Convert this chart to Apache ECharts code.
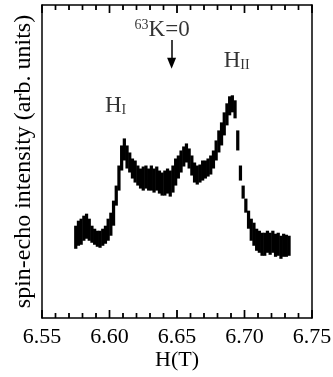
<!DOCTYPE html>
<html>
<head>
<meta charset="utf-8">
<script src="https://cdn.jsdelivr.net/npm/echarts@6/dist/echarts.min.js"></script>
<style>
  html, body { margin: 0; padding: 0; background: #fff; }
  #main { width: 333px; height: 377px; }
</style>
</head>
<body>
<div id="main"></div>
<script>
// field values (T) of each slice of the spin-echo trace
var fieldT = [6.575, 6.577, 6.579, 6.581, 6.583, 6.585, 6.587, 6.589, 6.591, 6.593,
  6.595, 6.597, 6.599, 6.601, 6.603, 6.605, 6.607, 6.609, 6.611, 6.613,
  6.615, 6.617, 6.619, 6.621, 6.623, 6.625, 6.627, 6.629, 6.631, 6.633,
  6.635, 6.637, 6.639, 6.641, 6.643, 6.645, 6.647, 6.649, 6.651, 6.653,
  6.655, 6.657, 6.659, 6.661, 6.663, 6.665, 6.667, 6.669, 6.671, 6.673,
  6.675, 6.677, 6.679, 6.681, 6.683, 6.685, 6.687, 6.689, 6.691, 6.693,
  6.695, 6.697, 6.699, 6.701, 6.703, 6.705, 6.707, 6.709, 6.711, 6.713,
  6.715, 6.717, 6.719, 6.721, 6.723, 6.725, 6.727, 6.729, 6.731, 6.733];
// upper and lower edge of the noisy trace (arb. units)
var bandHi = [92, 97, 99, 102, 104, 99, 92, 89, 87, 87,
  89, 92, 99, 105, 117, 132, 152, 172, 179, 172,
  165, 159, 157, 152, 149, 151, 152, 149, 152, 149,
  151, 147, 145, 147, 149, 147, 152, 159, 162, 167,
  171, 174, 169, 162, 155, 152, 153, 157, 157, 159,
  162, 167, 177, 187, 195, 205, 214, 221, 222, 217,
  187, 152, 132, 119, 107, 99, 95, 89, 87, 85,
  85, 87, 85, 87, 84, 85, 82, 84, 83, 82];
var bandLo = [69, 72, 73, 77, 79, 77, 75, 73, 71, 70,
  72, 74, 77, 82, 92, 112, 127, 147, 157, 149,
  145, 139, 135, 132, 129, 127, 129, 127, 127, 125,
  127, 124, 122, 122, 124, 121, 125, 132, 139, 145,
  151, 155, 149, 142, 135, 133, 135, 137, 139, 141,
  143, 149, 157, 165, 172, 182, 192, 202, 205, 199,
  167, 137, 119, 105, 89, 77, 72, 67, 65, 62,
  62, 65, 63, 65, 61, 62, 59, 61, 61, 62];
// axis ticks (T)
var xTicks = [6.55, 6.60, 6.65, 6.70, 6.75];
var xMinorTicks = [6.56, 6.57, 6.58, 6.59, 6.61, 6.62, 6.63, 6.64, 6.66, 6.67, 6.68, 6.69,
  6.71, 6.72, 6.73, 6.74];
var yMax = 312;

var bands = fieldT.map(function (x, i) { return [x, bandLo[i], bandHi[i]]; });
// [field, side (0 bottom / 1 top), major flag]
var tickData = [];
xTicks.forEach(function (t) { tickData.push([t, 0, 1], [t, 1, 1]); });
xMinorTicks.forEach(function (t) { tickData.push([t, 0, 0], [t, 1, 0]); });
var serif = 'Liberation Serif';

function xAxisOpt(pos, withLabels) {
  return {
    type: 'value', position: pos, min: xTicks[0], max: xTicks[xTicks.length - 1], interval: 0.05,
    axisLine: { show: true, onZero: false, lineStyle: { color: '#000', width: 1.5 } },
    axisTick: { show: false },
    splitLine: { show: false },
    axisLabel: {
      show: withLabels, margin: 8, fontFamily: serif, fontSize: 22, color: '#000',
      formatter: function (v) { return v.toFixed(2); }
    }
  };
}

var bottomAxis = xAxisOpt('bottom', true);
bottomAxis.name = 'H(T)';
bottomAxis.nameLocation = 'middle';
bottomAxis.nameGap = 42;
bottomAxis.nameMoveOverlap = false;
bottomAxis.nameTextStyle = { fontFamily: serif, fontSize: 22, color: '#000', verticalAlign: 'middle' };

var myChart = echarts.init(document.getElementById('main'));
myChart.setOption({
  animation: false,
  grid: { left: 42, right: 21, top: 5, bottom: 59, outerBoundsMode: 'none', containLabel: false },
  xAxis: [bottomAxis, xAxisOpt('top', false)],
  yAxis: [
    {
      type: 'value', min: 0, max: yMax, position: 'left',
      name: 'spin-echo intensity (arb. units)', nameLocation: 'middle', nameGap: 6,
      nameTextStyle: { fontFamily: serif, fontSize: 24, color: '#000' },
      axisLine: { show: true, lineStyle: { color: '#000', width: 1.5 } },
      axisTick: { show: false }, axisLabel: { show: false }, splitLine: { show: false }
    },
    {
      type: 'value', min: 0, max: yMax, position: 'right',
      axisLine: { show: true, lineStyle: { color: '#000', width: 1.5 } },
      axisTick: { show: false }, axisLabel: { show: false }, splitLine: { show: false }
    }
  ],
  series: [
    {
      type: 'custom',
      data: bands,
      renderItem: function (params, api) {
        var x = api.value(0);
        var p1 = api.coord([x - 0.0012, api.value(2)]);
        var p2 = api.coord([x + 0.0012, api.value(1)]);
        return {
          type: 'rect',
          shape: { x: p1[0], y: p1[1], width: p2[0] - p1[0], height: p2[1] - p1[1] },
          style: { fill: '#000' }
        };
      },
      markLine: {
        silent: true,
        symbol: ['none', 'triangle'], symbolSize: [9, 11],
        label: { show: false },
        lineStyle: { color: '#000', width: 1.5, type: 'solid' },
        data: [[{ coord: [6.646, 277] }, { coord: [6.646, 254] }]]
      }
    },
    {
      // inward tick marks on the bottom and top frame, one rect per tick
      type: 'custom',
      silent: true,
      z: 5,
      data: tickData,
      renderItem: function (params, api) {
        var len = api.value(2) ? 8 : 5;
        var top = api.value(1) === 1;
        var p = api.coord([api.value(0), top ? yMax : 0]);
        return {
          type: 'rect',
          shape: { x: p[0] - 0.7, y: top ? p[1] : p[1] - len, width: 1.4, height: len },
          style: { fill: '#000' }
        };
      }
    },
    {
      type: 'scatter',
      symbolSize: 1,
      itemStyle: { color: 'rgba(0,0,0,0)' },
      label: {
        show: true, position: 'inside', color: '#000',
        fontFamily: serif, fontSize: 23,
        formatter: function (p) { return p.data[2]; },
        rich: {
          sup: { fontFamily: serif, fontSize: 14, color: '#000', verticalAlign: 'top', padding: [0, 0, 9, 0] },
          sub: { fontFamily: serif, fontSize: 14, color: '#000', verticalAlign: 'bottom', padding: [9, 0, 0, 0] },
          b: { fontFamily: serif, fontSize: 23, color: '#000' }
        }
      },
      data: [
        [6.639, 287, '{sup|63}{b|K=0}'],
        [6.6045, 211, '{b|H}{sub|I}'],
        [6.6942, 256, '{b|H}{sub|II}']
      ]
    }
  ]
});

// same tick marks again as graphic elements placed through the chart's own scales
var tickGraphics = [];
tickData.forEach(function (d) {
  var len = d[2] ? 8 : 5;
  var p = myChart.convertToPixel({ gridIndex: 0 }, [d[0], d[1] ? yMax : 0]);
  if (!p) return;
  tickGraphics.push({
    type: 'rect', silent: true, z: 100,
    shape: { x: p[0] - 0.7, y: d[1] ? p[1] : p[1] - len, width: 1.4, height: len },
    style: { fill: '#000' }
  });
});
myChart.setOption({ graphic: tickGraphics });
</script>
</body>
</html>
